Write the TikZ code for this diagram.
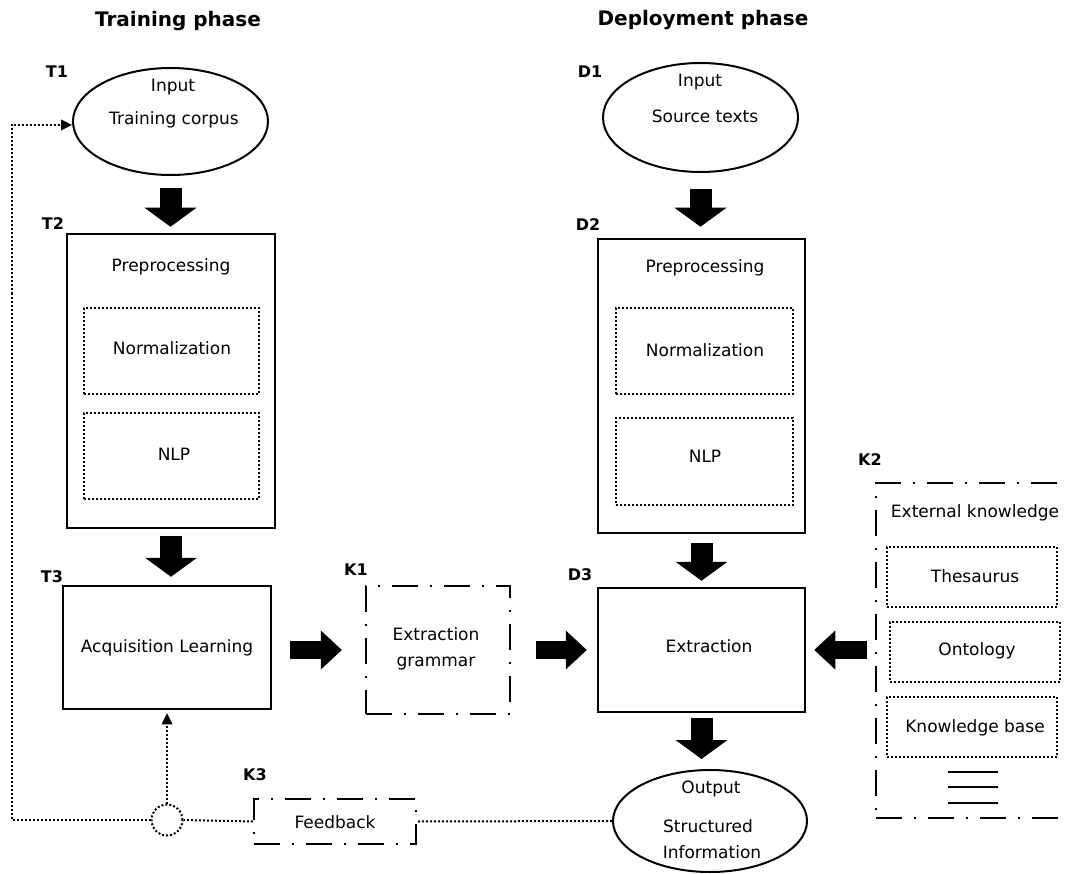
\documentclass[tikz,border=0pt]{standalone}
\usepackage{fontspec}
\setmainfont{DejaVu Sans}
\usetikzlibrary{shapes.geometric,arrows.meta,calc}
\newcommand\rfont{\fontsize{17}{20}\selectfont}
\newcommand\lfont{\fontsize{16}{19}\selectfont\bfseries}
\newcommand\tfont{\fontsize{20}{24}\selectfont\bfseries}
\tikzset{
  txt/.style={font=\rfont, anchor=base, inner sep=0pt},
  lbl/.style={font=\lfont, anchor=base, inner sep=0pt},
  ttl/.style={font=\tfont, anchor=base, inner sep=0pt},
  ell/.style={ellipse, draw, line width=2pt, inner sep=0pt},
  box/.style={rectangle, draw, line width=2.5pt, inner sep=0pt},
  dbox/.style={rectangle, draw, line width=2pt, dash pattern=on 2pt off 2pt, inner sep=0pt},
  ddbox/.style={rectangle, draw, line width=2.3pt, dash pattern=on 26pt off 12pt on 2pt off 12pt, inner sep=0pt},
  barrv/.style={line width=22pt, -{Triangle[length=19pt,width=52pt,line width=0pt]}},
  barrh/.style={line width=18pt, -{Triangle[length=21pt,width=39pt,line width=0pt]}},
  fb/.style={line width=2pt, dash pattern=on 2pt off 2pt},
  fbarr/.style={fb, -{Triangle[length=11pt,width=11pt,line width=0pt]}},
}
\begin{document}
\begin{tikzpicture}[x=1pt,y=-1pt]
\useasboundingbox (0,0) rectangle (1068,874);
\fill[white] (0,0) rectangle (1068,874);

% titles
\node[ttl] (tt) at (178,27) {Training phase};
\node[ttl] (td) at (703,26) {Deployment phase};

% labels
\node[lbl] (lt1) at (57,78) {T1};
\node[lbl] (lt2) at (53,230) {T2};
\node[lbl] (lt3) at (52,582) {T3};
\node[lbl] (ld1) at (590,78) {D1};
\node[lbl] (ld2) at (588,231) {D2};
\node[lbl] (ld3) at (580,580) {D3};
\node[lbl] (lk1) at (356,575) {K1};
\node[lbl] (lk2) at (870,465) {K2};
\node[lbl] (lk3) at (255,780) {K3};

% training column
\node[ell, minimum width=195pt, minimum height=107pt] (t1) at (170.5,121.5) {};
\node[txt] (t1a) at (173,92) {Input};
\node[txt] (t1b) at (174,125) {Training corpus};

\node[box, minimum width=208pt, minimum height=294pt] (t2) at (171,381) {};
\node[txt] (t2a) at (171,272) {Preprocessing};
\node[dbox, minimum width=175pt, minimum height=86pt] (t2n) at (171.5,351) {};
\node[txt] (t2nt) at (172,355) {Normalization};
\node[dbox, minimum width=175pt, minimum height=86pt] (t2l) at (171.5,456) {};
\node[txt] (t2lt) at (174,460) {NLP};

\node[box, minimum width=208pt, minimum height=123pt] (t3) at (167,647.5) {};
\node[txt] (t3t) at (167,652) {Acquisition Learning};

% K1
\node[ddbox, minimum width=144pt, minimum height=128pt] (k1) at (438,650) {};
\node[txt] (k1a) at (436,640) {Extraction};
\node[txt] (k1b) at (436,666) {grammar};

% deployment column
\node[ell, minimum width=195pt, minimum height=109pt] (d1) at (700.5,117.5) {};
\node[txt] (d1a) at (700,87) {Input};
\node[txt] (d1b) at (705,123) {Source texts};

\node[box, minimum width=207pt, minimum height=294pt] (d2) at (701.5,386) {};
\node[txt] (d2a) at (705,273) {Preprocessing};
\node[dbox, minimum width=177pt, minimum height=86pt] (d2n) at (704,351) {};
\node[txt] (d2nt) at (705,356) {Normalization};
\node[dbox, minimum width=177pt, minimum height=87pt] (d2l) at (704,461.5) {};
\node[txt] (d2lt) at (705,462) {NLP};

\node[box, minimum width=207pt, minimum height=124pt] (d3) at (701.5,650) {};
\node[txt] (d3t) at (709,652) {Extraction};

\node[ell, minimum width=194pt, minimum height=102pt] (out) at (710,821) {};
\node[txt] (outa) at (711,793) {Output};
\node[txt] (outb) at (708,832) {Structured};
\node[txt] (outc) at (712,858) {Information};

% K2
\node[ddbox, minimum width=209pt, minimum height=335pt] (k2) at (980.5,650.5) {};
\node[txt] (k2t) at (975,517) {External knowledge};
\node[dbox, minimum width=170pt, minimum height=60pt] (k2a) at (972,577) {};
\node[txt] (k2at) at (975,582) {Thesaurus};
\node[dbox, minimum width=170pt, minimum height=60pt] (k2b) at (975,652) {};
\node[txt] (k2bt) at (977,655) {Ontology};
\node[dbox, minimum width=170pt, minimum height=60pt] (k2c) at (972,727) {};
\node[txt] (k2ct) at (975,732) {Knowledge base};
\draw[line width=2.5pt] (948,772) -- (998,772);
\draw[line width=2.5pt] (948,787) -- (998,787);
\draw[line width=2.5pt] (948,803) -- (998,803);

% K3 and feedback
\node[ddbox, minimum width=162pt, minimum height=45pt] (k3) at (335,821.5) {};
\node[txt] (k3t) at (335,828) {Feedback};
\node[circle, draw, line width=2pt, dash pattern=on 2pt off 2pt, minimum size=31pt, inner sep=0pt] (circ) at (167,820) {};
\coordinate (fbc) at (12,125);

\draw[fb] (out.west) -- (k3.east);
\draw[fb] (k3.west) -- (circ.east);
\draw[fbarr] (circ.west) -| (fbc) -- (fbc -| t1.west);
\draw[fbarr, shorten >=3pt] (circ.north) -- (t3.south);

% block arrows
\draw[barrv, shorten <=12pt, shorten >=6pt] (t1.south) -- (t1.south |- t2.north);
\draw[barrv, shorten <=7pt, shorten >=8pt] (t2.south) -- (t2.south |- t3.north);
\draw[barrh, shorten <=18pt, shorten >=23pt] (t3.east |- k1.center) -- (k1.west);
\draw[barrh, shorten <=25pt, shorten >=10pt] (k1.east) -- (k1.east -| d3.west);
\draw[barrv, shorten <=16pt, shorten >=11pt] (d1.south) -- (d1.south |- d2.north);
\draw[barrv, shorten <=9pt, shorten >=6pt] (d2.south) -- (d2.south |- d3.north);
\draw[barrv, shorten <=5pt, shorten >=10pt] (d3.south) -- (d3.south |- out.north);
\draw[barrh, shorten <=8pt, shorten >=8pt] (d3.east -| k2.west) -- (d3.east);
\end{tikzpicture}
\end{document}
